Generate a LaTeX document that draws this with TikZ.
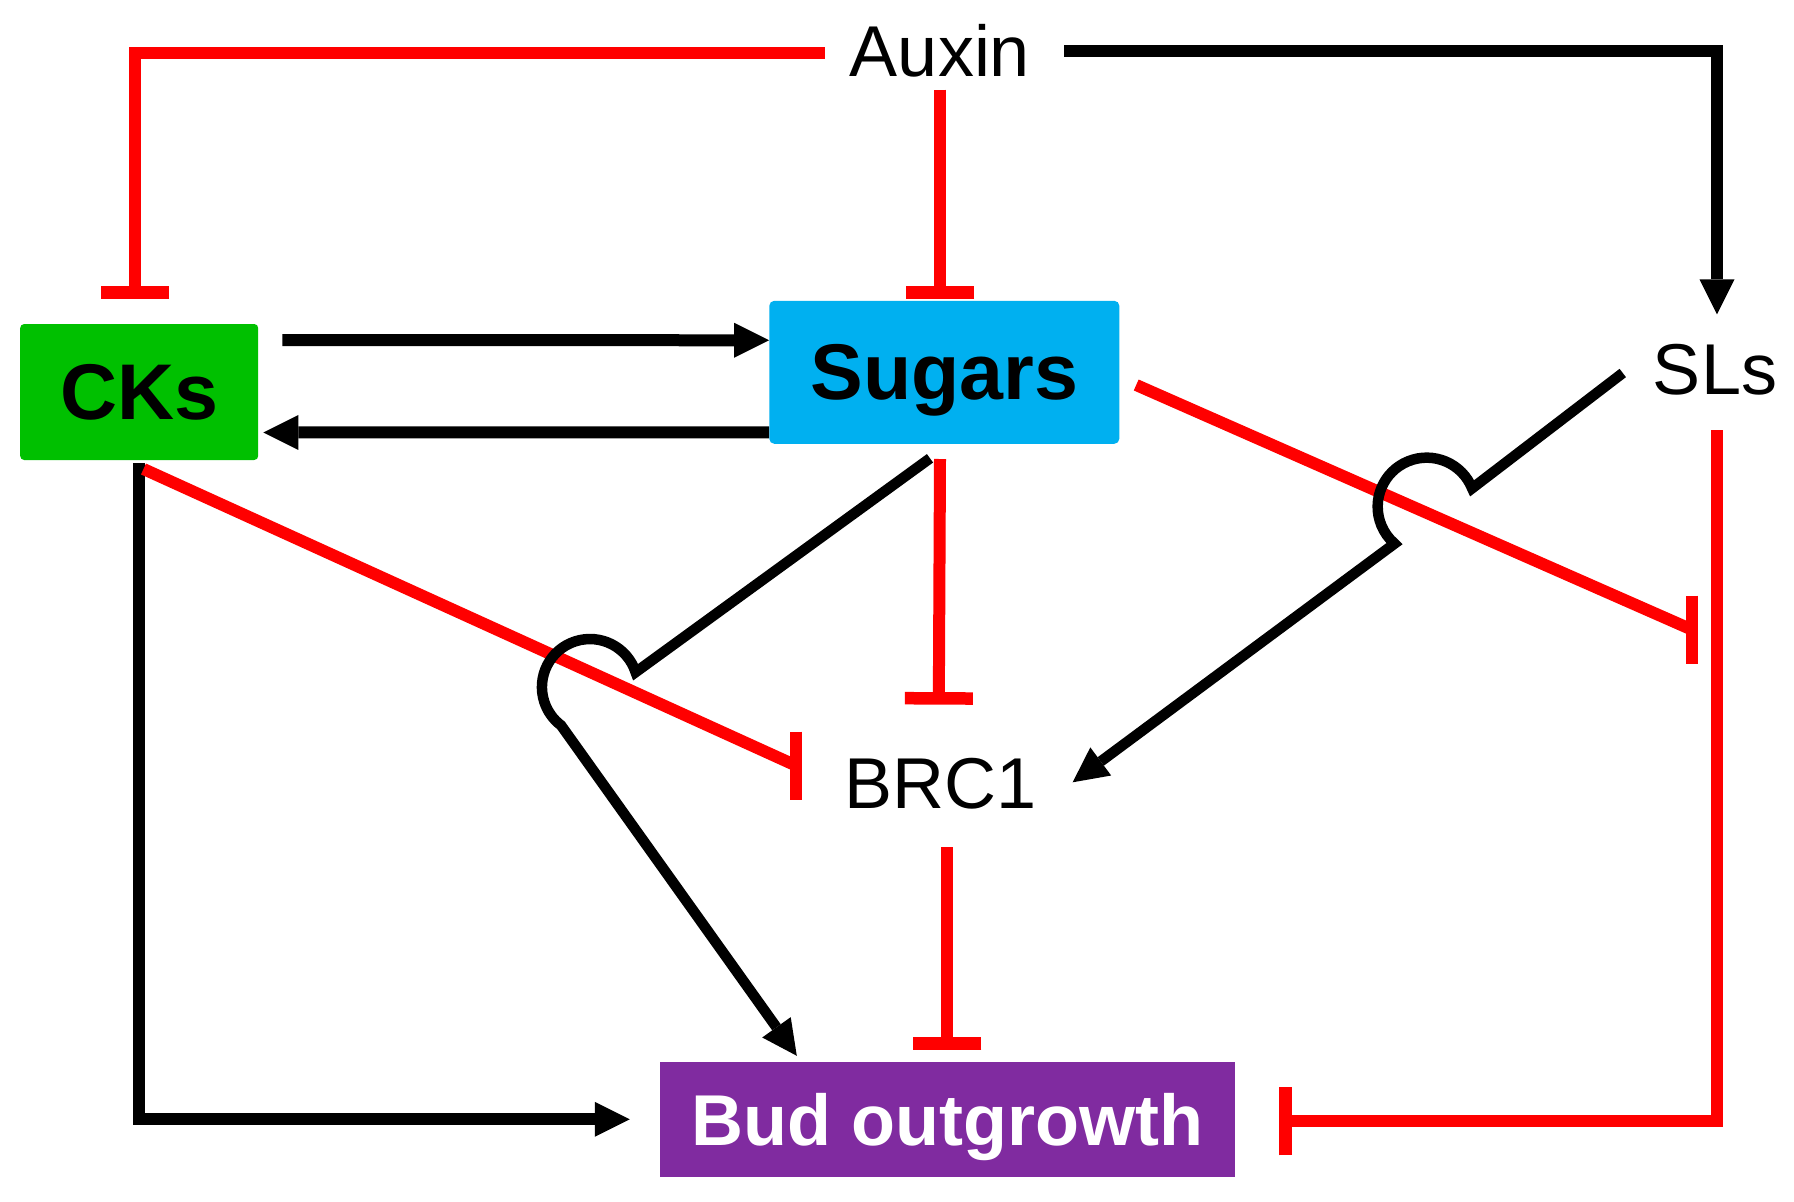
\documentclass[tikz,border=0pt]{standalone}
\usepackage{fontspec}
\setmainfont{Liberation Sans}
\usetikzlibrary{arrows.meta}
\definecolor{ckgreen}{RGB}{0,192,0}
\definecolor{sugblue}{RGB}{0,176,240}
\definecolor{budpurple}{RGB}{128,43,160}
\definecolor{inhred}{RGB}{255,0,0}
\begin{document}
\begin{tikzpicture}[x=1pt,y=-1pt,
  lbl/.style={inner sep=0pt, font=\fontsize{72}{80}\selectfont},
  boxnode/.style={inner sep=0pt, text depth=0pt, font=\bfseries\fontsize{79}{86}\selectfont},
  act/.style={draw=black, line width=12pt, -{Triangle[length=35pt,width=35pt,line width=0pt]}},
  actthin/.style={act, line width=10.5pt},
  inh/.style={draw=inhred, line width=12pt, -{Bar[width=68pt,line width=12.5pt]}},
  inhline/.style={draw=inhred, line width=12pt},
  inhbar/.style={draw=inhred, line width=12.5pt},
]
\fill[white] (0,0) rectangle (1794,1202);
\useasboundingbox (0,0) rectangle (1794,1202);

% nodes
\node[lbl] (auxin) at (940,51) {Auxin};
\node[lbl] (sls) at (1715,370) {SLs};
\node[lbl] (brc1) at (940.4,783.3) {BRC1};
\node[boxnode, fill=ckgreen, rounded corners=4pt, minimum width=238pt, minimum height=136pt] (cks) at (139.2,392) {CKs};
\node[boxnode, fill=sugblue, rounded corners=5pt, minimum width=350pt, minimum height=143pt] (sugars) at (944.3,372.3) {Sugars};
\node[boxnode, fill=budpurple, text=white, font=\bfseries\fontsize{72}{80}\selectfont, minimum width=575pt, minimum height=115pt] (bud) at (947.5,1119.3) {Bud outgrowth};

% Auxin connectors
\draw[inh] ([shift={(-25,2)}]auxin.west) -| ([shift={(-4,-25)}]cks.north);
\draw[inh, shorten >=2pt] ([yshift=-12pt]auxin.south) -- (auxin.south |- sugars.north);
\draw[act] ([xshift=34pt]auxin.east) -| ([shift={(2,-30)}]sls.north);

% CKs <-> Sugars
\draw[act] ([shift={(24,-52)}]cks.east) -- ([yshift=32pt]sugars.west);
\draw[act] ([yshift=-60pt]sugars.west) -- ([shift={(5,40.5)}]cks.east);

% CKs -> Bud outgrowth
\draw[act, shorten <=3pt, shorten >=30pt] (cks.south) |- (bud.west);

% CKs -| BRC1
\coordinate (cb) at ([shift={(-48.4,-17.8)}]brc1.west);
\draw[inhline] ([shift={(4.3,8.8)}]cks.south) -- (cb);
\draw[inhbar] ([yshift=34pt]cb) -- ([yshift=-34pt]cb);

% Sugars -| BRC1
\draw[inh] ([shift={(-4.3,15)}]sugars.south) -- ([shift={(-1.6,-53)}]brc1.north);

% BRC1 -| Bud outgrowth
\coordinate (bb) at ([shift={(6.9,38.4)}]brc1.south);
\draw[inh, shorten >=12pt] (bb) -- (bb |- bud.north);

% SLs -| Bud outgrowth
\draw[inh] ([shift={(2,34.5)}]sls.south) |- ([shift={(44,2)}]bud.east);

% Sugars -| SLs pathway
\coordinate (sb) at ([shift={(-23,234)}]sls.south);
\draw[inhline] ([shift={(16.7,12.7)}]sugars.east) -- (sb);
\draw[inhbar] ([yshift=34pt]sb) -- ([yshift=-34pt]sb);

% SLs -> BRC1 (with jump)
\coordinate (j2) at (1472.1,488.3);
\draw[actthin] ([shift={(-30,3)}]sls.west) -- (j2) arc[start angle=-22, end angle=-229, radius=49] -- ([shift={(36,-1)}]brc1.east);

% Sugars -> Bud outgrowth (with jump)
\coordinate (j1) at (635.6,672.2);
\draw[actthin] ([shift={(-14.3,14.3)}]sugars.south) -- (j1) arc[start angle=-18, end angle=-233, radius=48] -- ([shift={(-150.7,-5.8)}]bud.north);
\end{tikzpicture}
\end{document}
